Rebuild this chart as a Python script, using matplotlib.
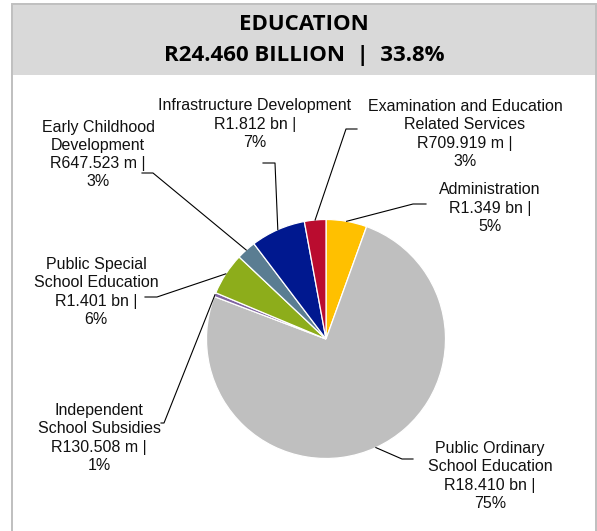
import matplotlib
matplotlib.use("Agg")
import matplotlib.pyplot as plt
import numpy as np

# ---------------- data ----------------
categories = [
    "Administration",
    "Public Ordinary\nSchool Education",
    "Independent\nSchool Subsidies",
    "Public Special\nSchool Education",
    "Early Childhood\nDevelopment",
    "Infrastructure Development",
    "Examination and Education\nRelated Services",
]
values_bn = [1.349, 18.410, 0.130508, 1.401, 0.647523, 1.812, 0.709919]
amount_labels = ["R1.349 bn |", "R18.410 bn |", "R130.508 m |", "R1.401 bn |",
                 "R647.523 m |", "R1.812 bn |", "R709.919 m |"]
pct_labels = ["5%", "75%", "1%", "6%", "3%", "7%", "3%"]
colors = ["#FFC000", "#BFBFBF", "#8064A2", "#8DAD1B", "#5A7D92", "#00188F", "#BA0C2F"]

title_line1 = "EDUCATION"
title_line2 = "R24.460 BILLION  |  33.8%"

# ---------------- layout (pixel coords, y from top) ----------------
W, H = 597, 531
pie_center_px = (326, 339)
pie_radius = 119.5
label_pos = [(490, 208), (490, 476), (99, 438), (96, 292), (98, 154.5), (255, 124), (465, 134)]
elbows = [(413, 204), (402, 459), (164, 423), (157, 297), (153, 173), (275, 163), (346, 129)]
ends = [(426, 204), (413, 459), (161, 423), (145, 297), (142, 173), (263, 163), (357, 129)]

def fy(y):
    return H - y

fig = plt.figure(figsize=(W / 100, H / 100), dpi=100)
ax = fig.add_axes([0, 0, 1, 1])
ax.set_xlim(0, W)
ax.set_ylim(0, H)
ax.set_aspect("equal")
ax.axis("off")

# frame and title box
ax.add_patch(plt.Rectangle((11.5, fy(560)), 584, 556, fill=False, edgecolor="#BFBFBF", lw=1.4, zorder=1))
ax.add_patch(plt.Rectangle((12.5, fy(75)), 582.5, 70, facecolor="#D9D9D9", edgecolor="none", zorder=0.5))

ax.text(304, fy(25), title_line1, ha="center", va="center", fontsize=16,
        fontweight="bold", family="Open Sans", color="black")
ax.text(304, fy(55.5), title_line2, ha="center", va="center", fontsize=16,
        fontweight="bold", family="Open Sans", color="black")

# pie
cx, cy = pie_center_px[0], fy(pie_center_px[1])
wedges, _ = ax.pie(values_bn, colors=colors, startangle=90, counterclock=False,
                   center=(cx, cy), radius=pie_radius, frame=True,
                   wedgeprops=dict(edgecolor="white", linewidth=0.9))
ax.set_xlim(0, W)
ax.set_ylim(0, H)
ax.axis("off")

# labels and leader lines
for i, w in enumerate(wedges):
    ang = np.deg2rad((w.theta1 + w.theta2) / 2)
    ax_pt = (cx + pie_radius * np.cos(ang), cy + pie_radius * np.sin(ang))
    ex, ey = elbows[i]
    nx, ny = ends[i]
    ax.plot([ax_pt[0], ex, nx], [ax_pt[1], fy(ey), fy(ny)], color="black", lw=0.8, zorder=3)
    lx, ly = label_pos[i]
    txt = f"{categories[i]}\n{amount_labels[i]}\n{pct_labels[i]}"
    ax.text(lx, fy(ly), txt, ha="center", va="center", multialignment="center",
            fontsize=11.5, family="Liberation Sans", color="#111111", linespacing=1.27)

fig.savefig("out.png", dpi=100, facecolor="white")
